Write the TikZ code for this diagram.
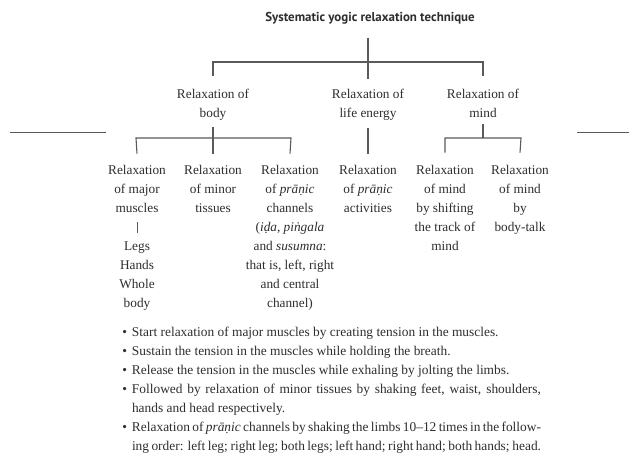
\documentclass[tikz,border=0pt]{standalone}
\usepackage{fontspec}
\setmainfont{Liberation Serif}
\newfontfamily\titlefont{PT Sans}
\definecolor{txt}{HTML}{2E2E2E}
\definecolor{ln}{HTML}{5A5A5A}
\begin{document}
\begin{tikzpicture}[x=1pt,y=-1pt,
  every node/.style={inner sep=0pt,outer sep=0pt,text=txt},
  lbl/.style={align=center,font=\fontsize{13.3}{19}\selectfont,anchor=north},
  bl/.style={anchor=base west,font=\fontsize{13.4}{19}\selectfont},
  conn/.style={draw=ln,line width=1.1pt}]
\useasboundingbox[fill=white] (0,0) rectangle (629,454);
% title
\node[anchor=base,font=\titlefont\bfseries\fontsize{12.9}{15}\selectfont] (title) at (370,22) {Systematic yogic relaxation technique};
% level 1
\node[lbl] (body) at (213,89) {Relaxation of\\body};
\node[lbl] (life) at (368,89) {Relaxation of\\life energy};
\node[lbl] (mind) at (483,89) {Relaxation of\\mind};
% level 2
\node[lbl] (c1) at (137,165.6) {Relaxation\\of major\\muscles};
\node[lbl] (c1b) at (137,241.9) {Legs\\Hands\\Whole\\body};
\node[lbl] (c2) at (213,165.6) {Relaxation\\of minor\\tissues};
\node[lbl] (c3) at (290,165.6) {Relaxation\\of \textit{prāṇic}\\channels\\(\textit{iḍa}, \textit{piṅgala}\\and \textit{susumna}:\\that is, left, right\\and central\\channel)};
\node[lbl] (c4) at (368,165.6) {Relaxation\\of \textit{prāṇic}\\activities};
\node[lbl] (c5) at (445,165.6) {Relaxation\\of mind\\by shifting\\the track of\\mind};
\node[lbl] (c6) at (520,165.6) {Relaxation\\of mind\\by\\body-talk};
% connectors
\coordinate (tl) at (213,62);
\coordinate (tr) at (483,62);
\draw[conn,shorten <=13pt,shorten >=10pt] (title.south -| life.north) -- (life.north);
\draw[conn] ([yshift=13pt]body.north) -- (tl) -- (tr) -- ([yshift=13pt]mind.north);
\coordinate (bl1) at (136,138);
\coordinate (bl3) at (291,138);
\draw[conn,shorten <=7pt,shorten >=12pt] (body.south) -- (c2.north);
\draw[conn] ([yshift=12pt]c1.north) -- (bl1) -- (bl3) -- ([yshift=12pt]c3.north);
\draw[conn,shorten <=8pt,shorten >=12pt] (life.south) -- (c4.north);
\coordinate (ml) at (445,138);
\coordinate (mr) at (521,138);
\coordinate (mm) at (483,138);
\draw[conn,shorten <=6.5pt] (mind.south) -- (mm);
\draw[conn] ([yshift=13pt]c5.north) -- (ml) -- (mr) -- ([yshift=13pt]c6.north);
\draw[conn,line width=0.9pt,shorten <=9pt,shorten >=9pt] (c1.south) -- (c1b.north);
% stray lines
\draw[ln,line width=1pt] (10,133) -- (106,133);
\draw[ln,line width=1pt] (577,133) -- (629,133);
% bullets
\newcommand{\bul}{\llap{\textbullet\hspace{5pt}}}
\node[bl] (b1) at (132,336.8) {\bul Start relaxation of major muscles by creating tension in the muscles.};
\node[bl] (b2) at (132,355.7) {\bul Sustain the tension in the muscles while holding the breath.};
\node[bl] (b3) at (132,374.6) {\bul Release the tension in the muscles while exhaling by jolting the limbs.};
\node[bl] (b4) at (132,393.5) {\bul\makebox[409pt][s]{Followed by relaxation of minor tissues by shaking feet, waist, shoulders,}};
\node[bl] (b4b) at (132,412.4) {hands and head respectively.};
\node[bl] (b5) at (132,431.3) {\bul\makebox[409pt][s]{Relaxation of \textit{prāṇic} channels by shaking the limbs 10–12 times in the follow-}};
\node[bl] (b5b) at (132,450.2) {\makebox[409pt][s]{ing order: left leg; right leg; both legs; left hand; right hand; both hands; head.}};
\end{tikzpicture}
\end{document}
